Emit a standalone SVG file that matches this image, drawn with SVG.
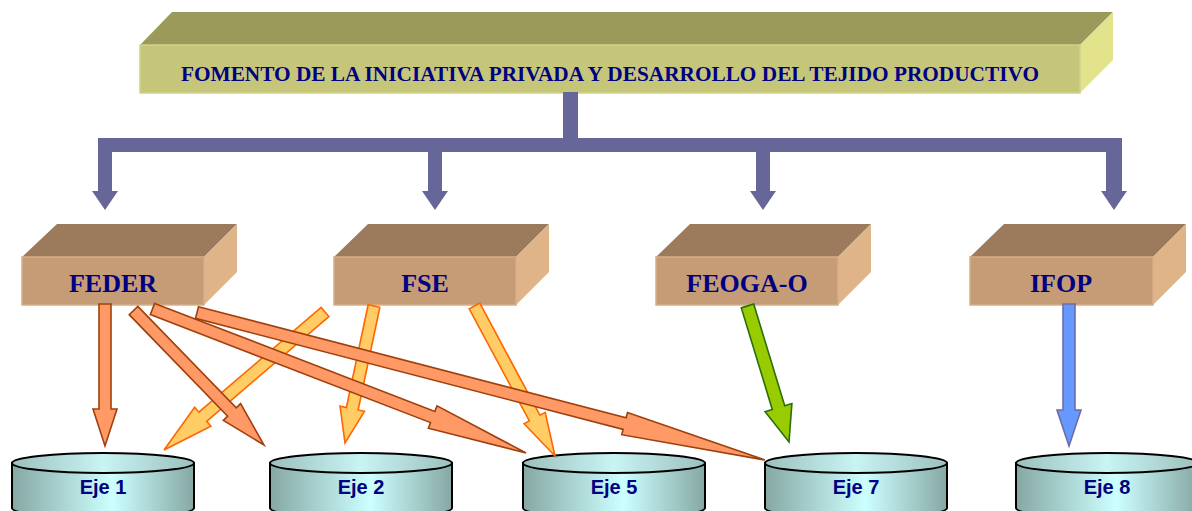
<svg xmlns="http://www.w3.org/2000/svg" width="1192" height="511" viewBox="0 0 1192 511">
<defs>
<linearGradient id="cyl" x1="0" y1="0" x2="1" y2="0">
<stop offset="0" stop-color="#86a8a4"/>
<stop offset="0.55" stop-color="#ccffff"/>
<stop offset="1" stop-color="#86a8a4"/>
</linearGradient>
<linearGradient id="cyltop" x1="0" y1="0" x2="1" y2="0">
<stop offset="0" stop-color="#9cc0bc"/>
<stop offset="0.5" stop-color="#c8f4f4"/>
<stop offset="1" stop-color="#9cc0bc"/>
</linearGradient>
<style>
.title{font-family:"Liberation Serif","Times New Roman",serif;font-weight:bold;font-size:20.5px;fill:#000080}
.fund{font-family:"Liberation Serif","Times New Roman",serif;font-weight:bold;font-size:26px;fill:#000080;text-anchor:middle}
.eje{font-family:"Liberation Sans",Arial,sans-serif;font-weight:bold;font-size:20px;fill:#000080;text-anchor:middle}
.btop{fill:#9b7b5c}
.bfront{fill:#c59c75;stroke:#d6ae86;stroke-width:1.5}
.bside{fill:#e0b489}
.conn{fill:#666699}
.or{fill:#ff9966;stroke:#a0410d;stroke-width:1.6;stroke-linejoin:miter}
.ye{fill:#ffcc66;stroke:#ff6600;stroke-width:1.6}
.gr{fill:#99cc00;stroke:#2a6e0a;stroke-width:1.6}
.bl{fill:#6699ff;stroke:#6c6cab;stroke-width:1.6}
.cb{fill:url(#cyl);stroke:#000;stroke-width:2}
.ct{fill:url(#cyltop);stroke:#000;stroke-width:2}
</style>
</defs>
<rect width="1192" height="511" fill="#ffffff"/>

<g id="top">
<polygon points="140,45 172,12 1113,12 1080,45" fill="#9c9a5a"/>
<polygon points="1080,45 1113,12 1113,60 1080,93" fill="#e3e38c"/>
<rect x="140" y="45" width="940" height="48" fill="#c6c67a" stroke="#d2d28a" stroke-width="1.5"/>
<text class="title" x="181" y="80.5" textLength="858" lengthAdjust="spacingAndGlyphs">FOMENTO DE LA INICIATIVA PRIVADA Y DESARROLLO DEL TEJIDO PRODUCTIVO</text>
</g>

<g id="tree">
<rect class="conn" x="563" y="92" width="15" height="55"/>
<rect class="conn" x="98" y="138" width="1024" height="14"/>
<rect class="conn" x="98" y="138" width="14" height="54"/>
<polygon class="conn" points="92,191 118,191 105,210"/>
<rect class="conn" x="428" y="145" width="14" height="47"/>
<polygon class="conn" points="422,191 448,191 435,210"/>
<rect class="conn" x="756" y="145" width="14" height="47"/>
<polygon class="conn" points="750,191 776,191 763,210"/>
<rect class="conn" x="1106" y="138" width="16" height="54"/>
<polygon class="conn" points="1101,191 1127,191 1114,210"/>
</g>

<g id="feder">
<polygon class="btop" points="22,257 57,224 237,224 204,257"/>
<polygon class="bside" points="204,257 237,224 237,272 204,305"/>
<rect class="bfront" x="22" y="257" width="182" height="48"/>
<text class="fund" x="113" y="292">FEDER</text>
</g>
<g id="fse">
<polygon class="btop" points="334,257 368,224 549,224 516,257"/>
<polygon class="bside" points="516,257 549,224 549,272 516,305"/>
<rect class="bfront" x="334" y="257" width="182" height="48"/>
<text class="fund" x="425" y="292">FSE</text>
</g>
<g id="feoga">
<polygon class="btop" points="656,257 690,224 871,224 838,257"/>
<polygon class="bside" points="838,257 871,224 871,272 838,305"/>
<rect class="bfront" x="656" y="257" width="182" height="48"/>
<text class="fund" x="747" y="292">FEOGA-O</text>
</g>
<g id="ifop">
<polygon class="btop" points="970,257 1004,224 1186,224 1153,257"/>
<polygon class="bside" points="1153,257 1186,224 1186,272 1153,305"/>
<rect class="bfront" x="970" y="257" width="183" height="48"/>
<text class="fund" x="1061" y="292">IFOP</text>
</g>

<g id="eje1">
<path class="cb" d="M12,463 V508 A91,10 0 0 0 194,508 V463 Z"/>
<ellipse class="ct" cx="103" cy="463" rx="91" ry="10"/>
<text class="eje" x="103" y="494">Eje 1</text>
</g>
<g id="eje2">
<path class="cb" d="M270,463 V508 A91,10 0 0 0 452,508 V463 Z"/>
<ellipse class="ct" cx="361" cy="463" rx="91" ry="10"/>
<text class="eje" x="361" y="494">Eje 2</text>
</g>
<g id="eje5">
<path class="cb" d="M523,463 V508 A91,10 0 0 0 705,508 V463 Z"/>
<ellipse class="ct" cx="614" cy="463" rx="91" ry="10"/>
<text class="eje" x="614" y="494">Eje 5</text>
</g>
<g id="eje7">
<path class="cb" d="M765,463 V508 A91,10 0 0 0 947,508 V463 Z"/>
<ellipse class="ct" cx="856" cy="463" rx="91" ry="10"/>
<text class="eje" x="856" y="494">Eje 7</text>
</g>
<g id="eje8">
<path class="cb" d="M1016,463 V508 A91,10 0 0 0 1198,508 V463 Z"/>
<ellipse class="ct" cx="1107" cy="463" rx="91" ry="10"/>
<text class="eje" x="1107" y="494">Eje 8</text>
</g>

<g id="connectors">
<path class="ye" transform="translate(325,312) rotate(139.4)" d="M0,-6 H161 V-12.5 L212,0 L161,12.5 V6 H0 Z"/>
<path class="ye" transform="translate(374,306) rotate(101.95)" d="M0,-6 H105 V-12.5 L140,0 L105,12.5 V6 H0 Z"/>
<path class="ye" transform="translate(474.5,306) rotate(61.78)" d="M0,-6 H127.2 V-12 L170.2,0 L127.2,12 V6 H0 Z"/>
<path class="or" transform="translate(105,304) rotate(90)" d="M0,-6 H105 V-12 L142,0 L105,12 V6 H0 Z"/>
<path class="or" transform="translate(133.5,310.5) rotate(45.87)" d="M0,-6 H141.4 V-12 L187.4,0 L141.4,12 V6 H0 Z"/>
<path class="or" transform="translate(152.5,309) rotate(21.08)" d="M0,-6 H300.3 V-12 L400.3,0 L300.3,12 V6 H0 Z"/>
<path class="or" transform="translate(197,312.5) rotate(14.56)" d="M0,-6 H441.8 V-11.5 L586.8,0 L441.8,11.5 V6 H0 Z"/>
<path class="gr" transform="translate(747.5,306) rotate(73.03)" d="M0,-6.5 H106.2 V-14 L142.2,0 L106.2,14 V6.5 H0 Z"/>
<path class="bl" transform="translate(1069,304) rotate(90)" d="M0,-6 H106 V-12 L142,0 L106,12 V6 H0 Z"/>
</g>
</svg>
